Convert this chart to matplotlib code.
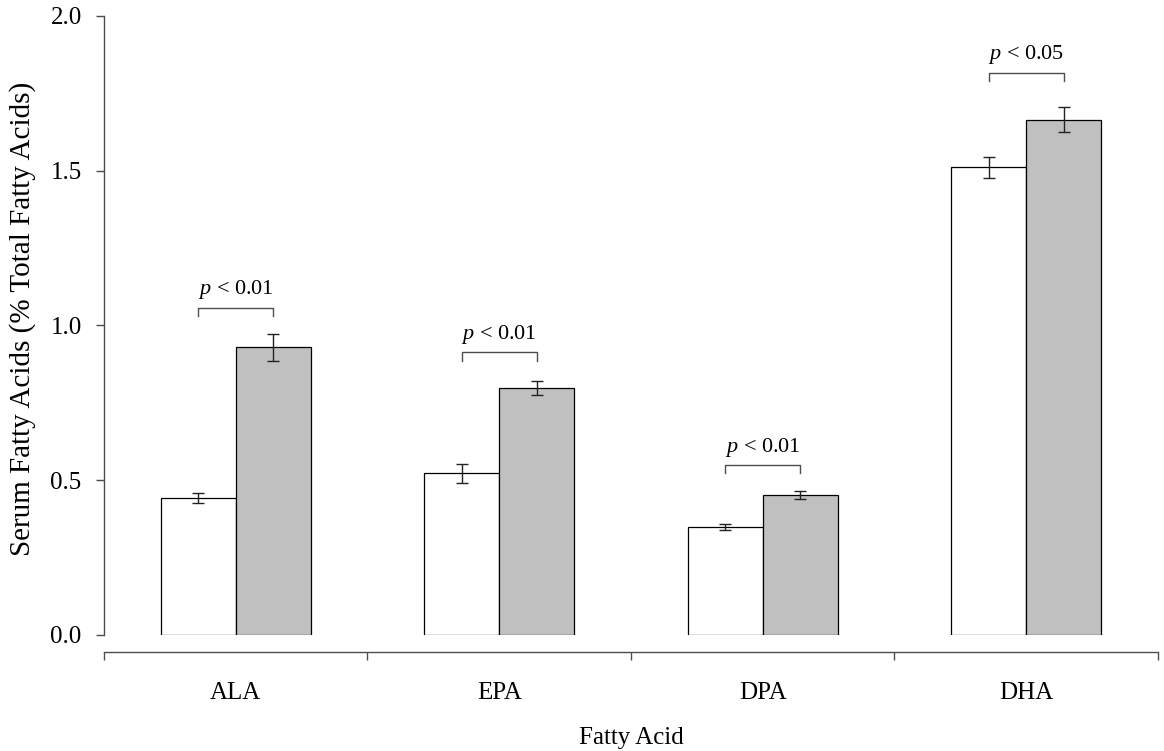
import numpy as np
import matplotlib
matplotlib.use("Agg")
import matplotlib.pyplot as plt

plt.rcParams['font.family'] = ['Liberation Serif', 'DejaVu Serif']
plt.rcParams['mathtext.fontset'] = 'custom'
plt.rcParams['mathtext.rm'] = 'Liberation Serif'
plt.rcParams['mathtext.it'] = 'Liberation Serif:italic'

# serum fatty acids, % of total fatty acids
acids = ["ALA", "EPA", "DPA", "DHA"]
control_mean = [0.442, 0.522, 0.350, 1.512]
control_se = [0.016, 0.032, 0.010, 0.034]
treated_mean = [0.929, 0.798, 0.452, 1.665]
treated_se = [0.043, 0.024, 0.013, 0.041]
p_labels = ["< 0.01", "< 0.01", "< 0.01", "< 0.05"]
bracket_y = [1.058, 0.914, 0.550, 1.817]

axis_grey = "#4d4d4d"
width = 0.285

fig = plt.figure(figsize=(11.64, 7.51), dpi=100)
ax = fig.add_axes([0.0893, 0.1545, 0.9055, 0.8242])

centers = np.arange(len(acids)) + 0.5
ax.bar(centers - width / 2, control_mean, width, color="white",
       edgecolor="black", linewidth=0.9, zorder=2)
ax.bar(centers + width / 2, treated_mean, width, color="#c0c0c0",
       edgecolor="black", linewidth=0.9, zorder=2)
ax.errorbar(centers - width / 2, control_mean, yerr=control_se, fmt="none",
            ecolor="#222222", elinewidth=1, capsize=4, capthick=1, zorder=3)
ax.errorbar(centers + width / 2, treated_mean, yerr=treated_se, fmt="none",
            ecolor="#222222", elinewidth=1, capsize=4, capthick=1, zorder=3)

# significance brackets
for c, y, lab in zip(centers, bracket_y, p_labels):
    x0, x1 = c - width / 2, c + width / 2
    ax.plot([x0, x0, x1, x1], [y - 0.028, y, y, y - 0.028],
            color=axis_grey, linewidth=1, clip_on=False)
    ax.text(c, y + 0.02, r"$p$ " + lab, ha="center", va="bottom",
            fontsize=16)

ax.set_xlim(0, 4)
ax.set_ylim(0, 2)

for side in ["top", "right"]:
    ax.spines[side].set_visible(False)
ax.spines["bottom"].set_position(("outward", 12))
for side in ["left", "bottom"]:
    ax.spines[side].set_color(axis_grey)
    ax.spines[side].set_linewidth(1)

ax.set_yticks([0.0, 0.5, 1.0, 1.5, 2.0])
ax.set_yticklabels(["0.0", "0.5", "1.0", "1.5", "2.0"])
ax.tick_params(axis="y", length=6, width=1, color=axis_grey, pad=10,
               labelsize=18)

ax.set_xticks([0, 1, 2, 3, 4])
ax.set_xticklabels([])
ax.tick_params(axis="x", which="major", length=6, width=1, color=axis_grey)
ax.set_xticks(centers, minor=True)
ax.set_xticklabels(acids, minor=True)
ax.tick_params(axis="x", which="minor", length=0, pad=22, labelsize=18)

ax.set_xlabel("Fatty Acid", fontsize=18)
ax.set_ylabel("Serum Fatty Acids (% Total Fatty Acids)", fontsize=21)
ax.xaxis.set_label_coords(0.5, -0.148)
ax.yaxis.set_label_coords(-0.064, 0.51)

fig.savefig("out.png", dpi=100)
